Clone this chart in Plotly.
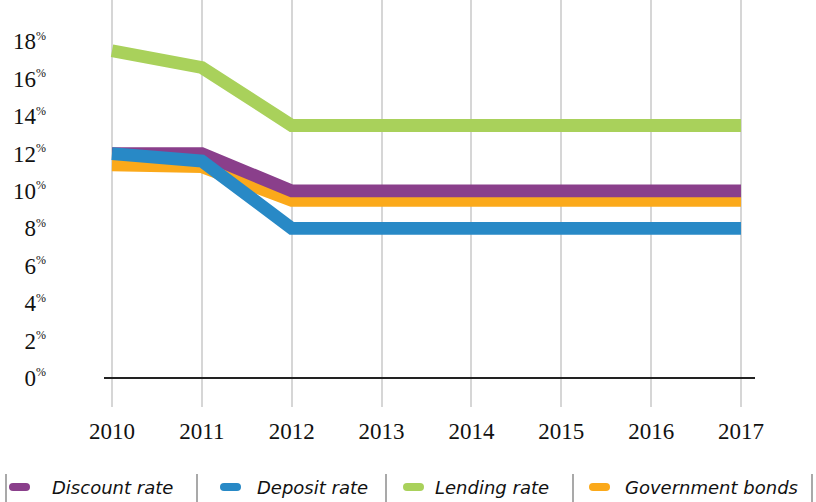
import plotly.graph_objects as go

# ---- data ----
years = [2010, 2011, 2012, 2013, 2014, 2015, 2016, 2017]
discount_rate = [12.0, 12.0, 10.0, 10.0, 10.0, 10.0, 10.0, 10.0]
deposit_rate = [12.0, 11.6, 8.0, 8.0, 8.0, 8.0, 8.0, 8.0]
lending_rate = [17.5, 16.6, 13.5, 13.5, 13.5, 13.5, 13.5, 13.5]
government_bonds = [11.4, 11.3, 9.5, 9.5, 9.5, 9.5, 9.5, 9.5]

series_names = ["Discount rate", "Deposit rate", "Lending rate", "Government bonds"]
series_values = [discount_rate, deposit_rate, lending_rate, government_bonds]
series_colors = ["#8A3F8B", "#2889C6", "#A9D15B", "#FBA91A"]

y_tick_values = [0, 2, 4, 6, 8, 10, 12, 14, 16, 18]
y_tick_labels = [f"{v}<sup><span style='font-size:12px'>%</span></sup>" for v in y_tick_values]
x_tick_labels = [str(y) for y in years]

# ---- layout geometry (pixels) ----
W, H = 816, 502
ML, MR, MT, MB = 104, 61, 0, 95
PW = W - ML - MR
PH = H - MT - MB


def px_x(px):
    return (px - ML) / PW


def px_y(py):
    return (H - MB - py) / PH


fig = go.Figure()

draw_order = [3, 0, 1, 2]
for i in draw_order:
    fig.add_trace(go.Scatter(
        x=years, y=series_values[i], name=series_names[i],
        mode="lines",
        line=dict(color=series_colors[i], width=12.8),
        showlegend=False,
    ))

# ---- custom legend ----
sep_px = [6, 197, 386, 573, 812]
sym_px = [9, 220, 403, 589]
text_px = [50, 255, 433, 623]
legend_y = 487

shapes = []
for sx in sep_px:
    shapes.append(dict(type="line", xref="paper", yref="paper",
                       x0=px_x(sx), x1=px_x(sx), y0=px_y(474), y1=px_y(502),
                       line=dict(color="#8C8C8C", width=1.5)))
annotations = []
for i, name in enumerate(series_names):
    shapes.append(dict(
        type="path", xref="paper", yref="paper",
        xsizemode="pixel", ysizemode="pixel",
        xanchor=px_x(sym_px[i]), yanchor=px_y(legend_y),
        path="M4,-4 H17 Q21,-4 21,0 Q21,4 17,4 H4 Q0,4 0,0 Q0,-4 4,-4 Z",
        fillcolor=series_colors[i], line=dict(width=0),
    ))
    annotations.append(dict(
        xref="paper", yref="paper", x=px_x(text_px[i]), y=px_y(legend_y),
        xanchor="left", yanchor="middle", showarrow=False,
        text=f"<i>{name}</i>",
        font=dict(family="DejaVu Sans", size=18, color="#111111"),
    ))

fig.update_layout(
    width=W, height=H,
    margin=dict(l=ML, r=MR, t=MT, b=MB, pad=0),
    paper_bgcolor="white", plot_bgcolor="white",
    shapes=shapes, annotations=annotations,
    xaxis=dict(
        range=[2009.911, 2017.156],
        tickvals=years, ticktext=x_tick_labels,
        showgrid=True, gridcolor="#D6D6D6", gridwidth=2,
        zeroline=False, showline=False, ticks="",
        ticklabelstandoff=8,
        tickfont=dict(family="Liberation Serif", size=23, color="#111111"),
    ),
    yaxis=dict(
        range=[-1.55, 20.21],
        tickvals=y_tick_values, ticktext=y_tick_labels,
        showgrid=False, zeroline=True, zerolinecolor="#222222", zerolinewidth=2,
        showline=False, ticks="",
        ticklabelstandoff=57,
        tickfont=dict(family="Liberation Serif", size=23, color="#111111"),
    ),
)

fig.write_html(
    "out.html",
    config={"displayModeBar": False},
    post_script="document.body.style.margin='0';document.body.style.overflow='hidden';",
)
